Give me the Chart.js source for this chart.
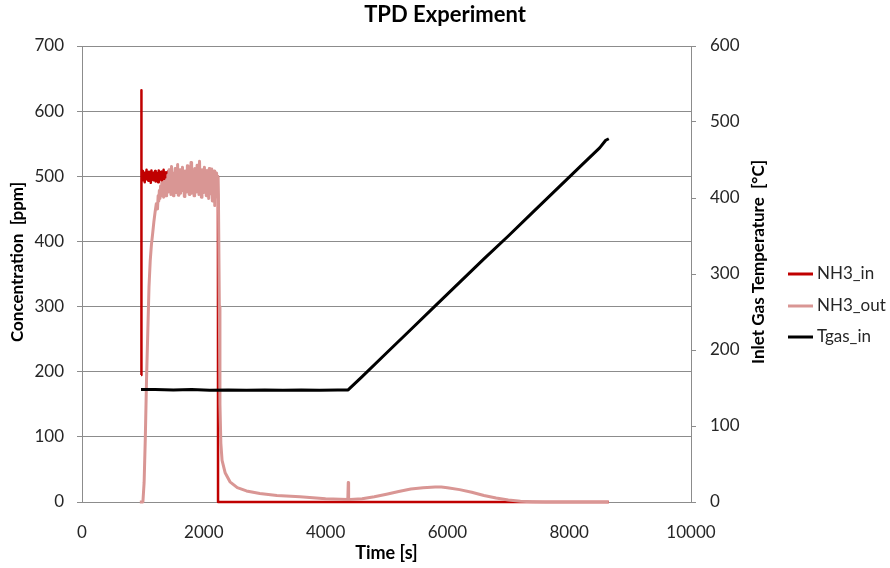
<!DOCTYPE html>
<html>
<head>
<meta charset="utf-8">
<script src="https://cdn.jsdelivr.net/npm/chart.js@4/dist/chart.umd.min.js"></script>
<style>
  html, body { margin: 0; padding: 0; background: #fff; }
  #wrap { width: 890px; height: 568px; }
</style>
</head>
<body>
<div id="wrap"><canvas id="tpdChart" width="890" height="568"></canvas></div>
<script>
// --- data ---
const seriesNames = ['NH3_in', 'NH3_out', 'Tgas_in'];
const xTicks = [0, 2000, 4000, 6000, 8000, 10000];
const concTicks = [0, 100, 200, 300, 400, 500, 600, 700];
const tempTicks = [0, 100, 200, 300, 400, 500, 600];

// NH3_in [ppm]
const inTime = [969, 972, 976,
  980, 990, 1000, 1010, 1020, 1030, 1040, 1050, 1060, 1070,
  1080, 1090, 1100, 1110, 1120, 1130, 1140, 1150, 1160, 1170,
  1180, 1190, 1200, 1210, 1220, 1230, 1240, 1250, 1260, 1270,
  1280, 1290, 1300, 1310, 1320, 1330, 1340, 1350, 1360, 1370,
  1380, 1390, 1400, 1410, 1420, 1430, 1440, 1450,
  1800, 2100, 2232, 2234, 8650];
const inVal = [195, 632, 505,
  505, 494, 508, 497, 503, 491, 506, 499, 510, 495,
  502, 493, 507, 498, 504, 490, 509, 496, 501, 494,
  506, 500, 508, 492, 503, 497, 505, 491, 509, 498,
  502, 495, 507, 493, 504, 499, 510, 494, 501, 496,
  506, 492, 503, 498, 508, 495, 502, 497,
  500, 501, 500, 0, 0];

// NH3_out [ppm]
const outTime = [950, 1000, 1020, 1040, 1060, 1080, 1100, 1120, 1140, 1160, 1180, 1200, 1220, 1240,
  1250, 1260, 1270, 1280, 1290, 1300, 1310, 1320, 1330, 1340, 1350, 1360, 1370, 1380, 1390, 1400,
  1410, 1420, 1430, 1440, 1450, 1460, 1470, 1480, 1490, 1500,
  1510, 1520, 1530, 1540, 1550, 1560, 1570, 1580, 1590, 1600,
  1610, 1620, 1630, 1640, 1650, 1660, 1670, 1680, 1690, 1700,
  1710, 1720, 1730, 1740, 1750, 1760, 1770, 1780, 1790, 1800,
  1810, 1820, 1830, 1840, 1850, 1860, 1870, 1880, 1890, 1900,
  1910, 1920, 1930, 1940, 1950, 1960, 1970, 1980, 1990, 2000,
  2010, 2020, 2030, 2040, 2050, 2060, 2070, 2080, 2090, 2100,
  2110, 2120, 2130, 2140, 2150, 2160, 2170, 2180, 2190, 2200,
  2210, 2220, 2230, 2240,
  2255, 2265, 2280, 2300, 2350, 2430, 2550, 2700, 2920, 3200, 3580, 4000, 4365, 4372, 4378, 4400,
  4600, 4800, 5000, 5200, 5400, 5600, 5800, 5900, 6000, 6200, 6400, 6600, 6800, 7000, 7200, 7400, 7600, 8000, 8650];
const outVal = [0, 0, 30, 100, 190, 260, 330, 370, 395, 412, 430, 445, 458, 450,
  470, 462, 478, 466, 485, 470, 490, 474, 482, 468, 492, 476, 488, 470, 495, 478,
  502, 476, 510, 484, 498, 472, 515, 480, 505, 470,
  500, 486, 512, 475, 496, 482, 518, 471, 506, 488,
  510, 474, 499, 485, 514, 478, 503, 469, 508, 483,
  497, 476, 516, 487, 505, 472, 500, 481, 521, 474,
  508, 486, 498, 470, 512, 480, 503, 476, 517, 484,
  500, 472, 523, 479, 506, 468, 510, 485, 498, 475,
  514, 481, 502, 470, 509, 487, 499, 466, 512, 478,
  504, 473, 511, 462, 500, 480, 508, 455, 497, 468,
  505, 474, 500, 470,
  300, 150, 90, 64, 45, 31, 22, 17, 13, 10, 8, 5, 4, 30, 4, 4,
  5, 8, 12, 16, 20, 22, 23, 23, 22, 19, 15, 10, 6, 3, 1, 0.5, 0, 0, 0];

// Tgas_in [°C], right axis
const tempTime = [969, 1200, 1500, 1800, 2100, 2400, 2700, 3000, 3300, 3600, 3900, 4200, 4370,
  4600, 5000, 5400, 5800, 6200, 6600, 7000, 7400, 7800, 8200, 8500, 8600, 8650];
const tempVal = [148, 148, 147.5, 148, 147, 147.5, 147, 147.5, 147, 147.5, 147, 147.5, 147.5,
  165, 196, 227, 258, 289, 320, 350, 381, 412, 443, 466, 476, 478];

const seriesColors = ['#c00000', '#d99694', '#000000'];

function toPoints(xs, ys) {
  return xs.map((x, i) => ({ x: x, y: ys[i] }));
}

const FONT = 'Lato, "Open Sans", sans-serif';
const GRID = '#8c8c8c';
const TEXT = '#262626';

// titles + legend drawn by hand (right axis title reads bottom-to-top like the reference)
const decorations = {
  id: 'decorations',
  afterDraw(chart) {
    const ctx = chart.ctx;
    const area = chart.chartArea;
    ctx.save();
    ctx.fillStyle = '#000';
    ctx.textBaseline = 'middle';
    ctx.textAlign = 'center';

    ctx.font = 'bold 22px ' + FONT;
    ctx.fillText('TPD Experiment', 445, 15);

    ctx.font = 'bold 18px ' + FONT;
    ctx.fillText('Time [s]', (area.left + area.right) / 2, 553);

    ctx.font = 'bold 17px ' + FONT;
    ctx.save();
    ctx.translate(18, 262);
    ctx.rotate(-Math.PI / 2);
    ctx.fillText('Concentration  [ppm]', 0, 0);
    ctx.restore();

    ctx.save();
    ctx.translate(759, 262);
    ctx.rotate(-Math.PI / 2);
    ctx.fillText('Inlet Gas Temperature  [°C]', 0, 0);
    ctx.restore();

    // legend
    const legendY = [274, 306, 337];
    ctx.font = '17px ' + FONT;
    ctx.textAlign = 'left';
    seriesNames.forEach((name, i) => {
      ctx.strokeStyle = seriesColors[i];
      ctx.lineWidth = 3;
      ctx.beginPath();
      ctx.moveTo(788, legendY[i]);
      ctx.lineTo(813, legendY[i]);
      ctx.stroke();
      ctx.fillStyle = TEXT;
      ctx.fillText(name, 817, legendY[i]);
    });
    ctx.restore();
  }
};

new Chart(document.getElementById('tpdChart'), {
  type: 'line',
  data: {
    datasets: [
      {
        label: seriesNames[0],
        data: toPoints(inTime, inVal),
        borderColor: seriesColors[0],
        borderWidth: 2.5,
        yAxisID: 'y',
        order: 2
      },
      {
        label: seriesNames[1],
        data: toPoints(outTime, outVal),
        borderColor: seriesColors[1],
        borderWidth: 3,
        yAxisID: 'y',
        order: 1
      },
      {
        label: seriesNames[2],
        data: toPoints(tempTime, tempVal),
        borderColor: seriesColors[2],
        borderWidth: 3,
        yAxisID: 'y2',
        order: 0
      }
    ]
  },
  options: {
    responsive: false,
    devicePixelRatio: 1,
    animation: false,
    layout: { padding: { top: 46, left: 0, right: 0, bottom: 0 } },
    elements: {
      point: { radius: 0, hoverRadius: 0 },
      line: { tension: 0, borderJoinStyle: 'round', borderCapStyle: 'butt' }
    },
    datasets: { line: { clip: 6 } },
    plugins: {
      legend: { display: false },
      tooltip: { enabled: false },
      title: { display: false }
    },
    scales: {
      x: {
        type: 'linear',
        min: xTicks[0],
        max: xTicks[xTicks.length - 1],
        afterBuildTicks: s => { s.ticks = xTicks.map(v => ({ value: v })); },
        afterFit: s => { s.height = 66; },
        grid: { display: false },
        border: { display: true, color: GRID, width: 1 },
        ticks: { color: TEXT, font: { family: FONT, size: 17 }, padding: 12, maxRotation: 0,
          callback: v => String(v) }
      },
      y: {
        position: 'left',
        min: concTicks[0],
        max: concTicks[concTicks.length - 1],
        afterBuildTicks: s => { s.ticks = concTicks.map(v => ({ value: v })); },
        afterFit: s => { s.width = 82; },
        grid: { color: GRID, lineWidth: 1, tickLength: 5 },
        border: { display: true, color: GRID, width: 1 },
        ticks: { color: TEXT, font: { family: FONT, size: 17 }, padding: 13 }
      },
      y2: {
        position: 'right',
        min: tempTicks[0],
        max: tempTicks[tempTicks.length - 1],
        afterBuildTicks: s => { s.ticks = tempTicks.map(v => ({ value: v })); },
        afterFit: s => { s.width = 199; },
        grid: { drawOnChartArea: false, color: GRID, tickLength: 5 },
        border: { display: true, color: GRID, width: 1 },
        ticks: { color: TEXT, font: { family: FONT, size: 17 }, padding: 14 }
      }
    }
  },
  plugins: [decorations]
});
</script>
</body>
</html>
